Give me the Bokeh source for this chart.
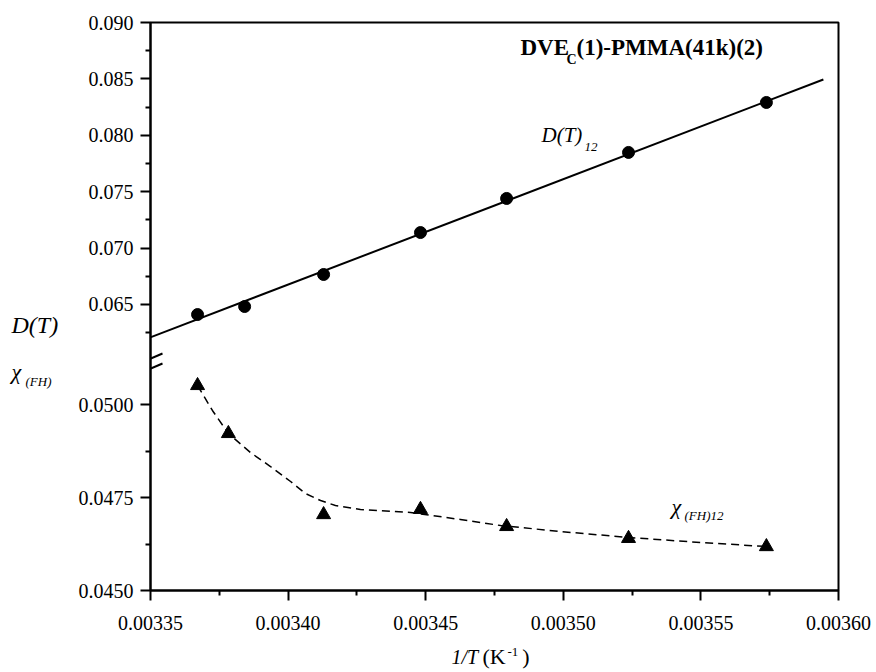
from bokeh.plotting import figure
from bokeh.models import Range1d, FixedTicker, Label, Arrow
from bokeh.embed import file_html
from bokeh.resources import INLINE

# ---------------- data ----------------
inv_T_D = [0.0033671, 0.0033842, 0.0034129, 0.0034481, 0.0034794, 0.0035237, 0.0035738]
D_T12 = [0.06411, 0.06482, 0.06766, 0.07138, 0.07440, 0.07848, 0.08291]

inv_T_chi = [0.0033671, 0.0033783, 0.0034129, 0.0034481, 0.0034794, 0.0035237, 0.0035738]
chi_FH12 = [0.05051, 0.04922, 0.04704, 0.04718, 0.04672, 0.04640, 0.04618]

fit_inv_T = [0.0033464, 0.0035945]
fit_D_T = [0.06175, 0.08495]

curve_inv_T = [0.0033671, 0.0033725, 0.0033783, 0.0033863, 0.0033936, 0.0034009,
               0.0034063, 0.0034118, 0.0034172, 0.0034263, 0.0034445, 0.0034626,
               0.0034772, 0.0034990, 0.0035237, 0.0035499, 0.0035738]
curve_chi = [0.050511, 0.049839, 0.049220, 0.048710, 0.048333, 0.047930,
             0.047608, 0.047419, 0.047285, 0.047177, 0.047097, 0.046909,
             0.046747, 0.046586, 0.046425, 0.046290, 0.046183]

x_tick_values = [0.00335, 0.00340, 0.00345, 0.00350, 0.00355, 0.00360]
x_tick_labels = ["0.00335", "0.00340", "0.00345", "0.00350", "0.00355", "0.00360"]
x_minor_values = [0.003375, 0.003425, 0.003475, 0.003525, 0.003575]

upper_tick_values = [0.065, 0.070, 0.075, 0.080, 0.085, 0.090]
upper_tick_labels = ["0.065", "0.070", "0.075", "0.080", "0.085", "0.090"]
upper_minor_values = [0.0625, 0.0675, 0.0725, 0.0775, 0.0825, 0.0875]

lower_tick_values = [0.0450, 0.0475, 0.0500]
lower_tick_labels = ["0.0450", "0.0475", "0.0500"]
lower_minor_values = [0.04625, 0.04875]

# ---------------- scales (broken y axis) ----------------
X0, X1 = 0.00335, 0.00360
U0, U1 = 0.039645, 0.090      # upper segment (D(T))
L0, L1 = 0.045, 0.060269      # lower segment (chi)

W, H = 876, 672
FL, FT, FR, FB = 150, 22, 838, 590   # frame edges in page pixels


def sx(px):
    return X0 + (px - FL) / (FR - FL) * (X1 - X0)


def sy(py):
    return U0 + (FB - py) / (FB - FT) * (U1 - U0)


def lower_to_upper(v):
    return U0 + (v - L0) / (L1 - L0) * (U1 - U0)


FONT = "Liberation Serif"

p = figure(width=W, height=H, output_backend="svg", toolbar_location=None,
           x_range=Range1d(X0, X1), y_range=Range1d(U0, U1),
           min_border_left=FL, min_border_top=FT,
           min_border_right=W - FR, min_border_bottom=H - FB)
p.extra_y_ranges = {"chi": Range1d(L0, L1)}
p.grid.visible = False
p.background_fill_color = "white"
p.border_fill_color = "white"
p.outline_line_color = "black"
p.outline_line_width = 2

# x axis
xa = p.xaxis[0]
xa.ticker = FixedTicker(ticks=x_tick_values, minor_ticks=x_minor_values)
xa.major_label_overrides = {v: s for v, s in zip(x_tick_values, x_tick_labels)}

# y axis with both segments
ya = p.yaxis[0]
lower_pos = [lower_to_upper(v) for v in lower_tick_values]
ya.ticker = FixedTicker(ticks=upper_tick_values + lower_pos,
                        minor_ticks=upper_minor_values + [lower_to_upper(v) for v in lower_minor_values])
ov = {v: s for v, s in zip(upper_tick_values, upper_tick_labels)}
ov.update({v: s for v, s in zip(lower_pos, lower_tick_labels)})
ya.major_label_overrides = ov

for ax in (xa, ya):
    ax.axis_line_width = 2
    ax.axis_line_color = "black"
    ax.major_tick_line_width = 2
    ax.minor_tick_line_width = 2
    ax.major_tick_line_color = "black"
    ax.minor_tick_line_color = "black"
    ax.major_tick_out = 10
    ax.major_tick_in = 0
    ax.minor_tick_out = 5
    ax.minor_tick_in = 0
    ax.major_label_text_font = FONT
    ax.major_label_text_font_size = "20px"
    ax.major_label_text_color = "black"
xa.major_label_standoff = 15
ya.major_label_standoff = 7

# data
p.line(fit_inv_T, fit_D_T, line_color="black", line_width=2)
p.scatter(inv_T_D, D_T12, marker="circle", size=12, fill_color="black", line_color="black")
p.line(curve_inv_T, curve_chi, line_color="black", line_width=1.5, line_dash="8 5",
       y_range_name="chi")
p.scatter(inv_T_chi, chi_FH12, marker="triangle", size=14, fill_color="black",
          line_color="black", y_range_name="chi")

# axis break marks
for yb in (358, 368):
    p.add_layout(Arrow(end=None, x_start=sx(139), y_start=sy(yb + 5),
                       x_end=sx(162), y_end=sy(yb - 5), line_width=2, line_color="black"))


def lab(px, py, text, size, style="normal", place="center"):
    # py is the wanted baseline; Bokeh draws the label a little lower, so lift it
    lbl = Label(x=sx(px), y=sy(py - 0.37 * size), text=text, text_font=FONT,
                text_font_size=f"{size}px", text_font_style=style,
                text_color="black", text_align="left", text_baseline="alphabetic")
    p.add_layout(lbl, place)


# title
lab(520, 56, "DVE", 23, "bold")
lab(566, 64, "C", 14, "bold")
lab(576, 56, "(1)-PMMA(41k)(2)", 23, "bold")

# series labels
lab(541, 142, "D(T)", 21, "italic")
lab(584, 151, "12", 13, "italic")
lab(671, 514, "\u03c7", 22, "italic")
lab(684, 520, "(FH)12", 13, "italic")

# labels outside the frame; each sits in a side panel that has room for it
lab(11, 333, "D(T)", 24, "italic", "left")
lab(11, 379, "\u03c7", 22, "italic", "left")
lab(25, 386, "(FH)", 13, "italic", "above")

lab(451, 664, "1/T", 20, "italic", "right")
lab(482, 664, "(K\u00a0\u00a0\u00a0)", 22, "normal", "below")
lab(507, 656, "-1", 13, "normal", "left")

open("out.html", "w").write(file_html(p, INLINE))
